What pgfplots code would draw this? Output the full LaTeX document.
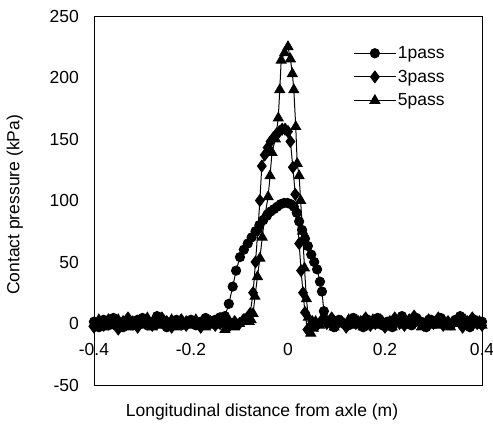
\documentclass[border=0pt]{standalone}
\usepackage{fontspec}
\setmainfont{Liberation Sans}
\usepackage{pgfplots}
\usepackage{pgfplotstable}
\pgfplotsset{compat=1.18}

\pgfplotstableread{
x y
-0.400 1.5
-0.390 -3
-0.380 3
-0.370 -1.5
-0.360 4.5
-0.350 0
-0.340 -3
-0.330 1.5
-0.320 -1.5
-0.310 3
-0.300 4.5
-0.290 -1.5
-0.280 1.5
-0.270 6
-0.260 0
-0.250 -3
-0.240 1.5
-0.230 3
-0.220 -1.5
-0.210 0
-0.200 3
-0.190 -1.5
-0.180 1.5
-0.170 4.5
-0.160 0
-0.150 3
-0.140 5
-0.130 6
-0.122 16
-0.114 30
-0.107 43
-0.099 54
-0.091 60
-0.083 65
-0.075 70
-0.067 75
-0.059 80
-0.051 84
-0.043 88
-0.036 91
-0.029 93
-0.022 95
-0.015 97
-0.008 98
-0.001 98
0.006 97
0.012 95
0.018 90
0.023 83
0.029 76
0.035 69
0.041 63
0.048 56
0.054 50
0.060 44
0.066 34
0.070 26
0.074 10
0.078 3
0.085 1.5
0.095 -3
0.105 3
0.115 0
0.125 -1.5
0.135 4.5
0.145 1.5
0.155 -3
0.165 3
0.175 0
0.185 4.5
0.195 -1.5
0.205 1.5
0.215 -3
0.225 3
0.235 6
0.245 0
0.255 -1.5
0.265 4.5
0.275 1.5
0.285 -3
0.295 3
0.305 0
0.315 4.5
0.325 1.5
0.335 -1.5
0.345 3
0.355 6
0.365 0
0.375 -3
0.385 3
0.395 0
0.400 1.5
}\onepass

\pgfplotstableread{
x y
-0.400 -3
-0.390 1.5
-0.380 -1.5
-0.370 3
-0.360 0
-0.350 -4.5
-0.340 1.5
-0.330 4.5
-0.320 0
-0.310 -3
-0.300 1.5
-0.290 3
-0.280 -1.5
-0.270 0
-0.260 4.5
-0.250 1.5
-0.240 -3
-0.230 0
-0.220 3
-0.210 -1.5
-0.200 1.5
-0.190 0
-0.180 -3
-0.170 3
-0.160 1.5
-0.150 -1.5
-0.140 0
-0.130 3
-0.120 -1.5
-0.110 1.5
-0.100 0
-0.092 3
-0.085 4
-0.078 8
-0.072 25
-0.067 50
-0.062 76
-0.058 100
-0.054 128
-0.048 137
-0.042 143
-0.036 148
-0.030 151
-0.024 154
-0.018 156
-0.012 158
-0.006 158
0.000 156
0.005 148
0.010 127
0.015 105
0.019 90
0.023 65
0.027 43
0.031 25
0.035 9
0.040 -5
0.045 -3
0.050 1.5
0.060 -1.5
0.070 3
0.080 0
0.090 4.5
0.100 -1.5
0.110 1.5
0.120 -3
0.130 3
0.140 0
0.150 1.5
0.160 4.5
0.170 -1.5
0.180 0
0.190 3
0.200 -3
0.210 1.5
0.220 4.5
0.230 0
0.240 -1.5
0.250 3
0.260 6
0.270 1.5
0.280 -1.5
0.290 3
0.300 0
0.310 4.5
0.320 -1.5
0.330 1.5
0.340 0
0.350 3
0.360 -3
0.370 1.5
0.380 4.5
0.390 0
0.400 -1.5
}\threepass

\pgfplotstableread{
x y
-0.400 0
-0.390 3
-0.380 -3
-0.370 1.5
-0.360 -1.5
-0.350 3
-0.340 0
-0.330 -3
-0.320 1.5
-0.310 -1.5
-0.300 0
-0.290 4.5
-0.280 -3
-0.270 1.5
-0.260 -1.5
-0.250 0
-0.240 3
-0.230 -3
-0.220 0
-0.210 1.5
-0.200 -1.5
-0.190 3
-0.180 0
-0.170 -3
-0.160 1.5
-0.150 -1.5
-0.140 0
-0.130 -5
-0.120 1.5
-0.110 -3
-0.100 0
-0.090 3
-0.080 1.5
-0.076 3
-0.072 8
-0.068 22
-0.063 38
-0.058 53
-0.053 70
-0.048 87
-0.041 103
-0.037 120
-0.033 139
-0.026 150
-0.020 167
-0.017 190
-0.014 214
-0.007 220
0.000 225
0.005 215
0.009 203
0.012 190
0.016 160
0.019 130
0.023 120
0.026 100
0.030 75
0.034 45
0.038 20
0.042 5
0.047 -8
0.052 -4
0.057 1.5
0.065 -1.5
0.075 3
0.085 0
0.095 -3
0.105 1.5
0.115 0
0.125 3
0.135 -1.5
0.145 1.5
0.155 -3
0.165 0
0.175 3
0.185 -1.5
0.195 1.5
0.205 0
0.215 -3
0.225 1.5
0.235 3
0.245 -1.5
0.255 0
0.265 3
0.275 -3
0.285 1.5
0.295 0
0.305 -1.5
0.315 3
0.325 0
0.335 -3
0.345 1.5
0.355 0
0.365 3
0.375 -1.5
0.385 0
0.395 1.5
0.400 -1.5
}\fivepass

\begin{document}
\begin{tikzpicture}
\begin{axis}[
  scale only axis,
  width=388pt, height=369pt,
  xmin=-0.4, xmax=0.4, ymin=-50, ymax=250,
  xtick={-0.4,-0.2,0,0.2,0.4},
  ytick={-50,0,50,100,150,200,250},
  major tick length=0pt,
  axis line style={line width=0.9pt},
  clip=false,
  /pgf/number format/assume math mode=true,
  tick label style={font=\fontsize{17.5}{21}\selectfont},
  xticklabel style={anchor=north, inner sep=0pt, yshift=42pt},
  yticklabel style={anchor=east, inner sep=0pt, xshift=-15pt},
  label style={font=\fontsize{17.5}{21}\selectfont},
  xlabel={Longitudinal distance from axle (m)},
  ylabel={Contact pressure (kPa)},
  xlabel style={at={(axis description cs:0.433,-0.072)}, anchor=center},
  ylabel style={at={(axis description cs:-0.204,0.488)}, anchor=center},
  legend style={draw=none, fill=none, at={(axis description cs:0.668,0.922)}, anchor=north west,
    font=\fontsize{17.5}{21}\selectfont, inner sep=0pt, row sep=7pt,
    nodes={inner sep=1.5pt}},
  legend cell align=left,
  legend image code/.code={\draw[mark repeat=2,mark phase=2,#1] plot coordinates {(0pt,0pt) (21pt,0pt) (42pt,0pt)};},
]
\addplot[black, line width=1pt, mark=*, mark size=4.6pt, mark options={fill=black}] table {\onepass};
\addlegendentry{1pass}
\addplot[black, line width=1pt, mark=diamond*, mark size=5.8pt, mark options={fill=black}] table {\threepass};
\addlegendentry{3pass}
\addplot[black, line width=1pt, mark=triangle*, mark size=5.6pt, mark options={fill=black}] table {\fivepass};
\addlegendentry{5pass}
\end{axis}
\pgfresetboundingbox
\path (current axis.south west) ++(-94pt,-49pt) rectangle ++(493pt,434pt);
\end{tikzpicture}
\end{document}
